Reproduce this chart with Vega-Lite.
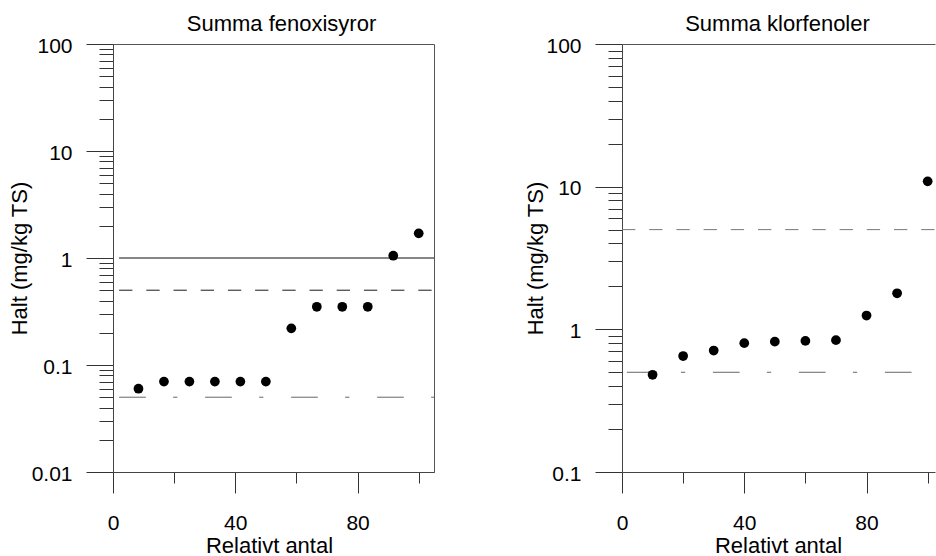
{
  "$schema": "https://vega.github.io/schema/vega-lite/v6.json",
  "background": "white",
  "padding": {"left": 7, "top": 12, "right": 0, "bottom": -3},
  "spacing": 89,
  "config": {
    "font": "Liberation Sans",
    "view": {"stroke": "#555", "strokeWidth": 1},
    "axis": {
      "grid": false,
      "labelFont": "Liberation Sans",
      "labelFontSize": 21,
      "labelColor": "#000",
      "titleFont": "Liberation Sans",
      "titleFontSize": 22,
      "titleFontWeight": "normal",
      "titleColor": "#000",
      "domainColor": "#444",
      "tickColor": "#333",
      "labelOverlap": false,
      "labelFlush": false
    },
    "title": {"font": "Liberation Sans", "fontSize": 22, "fontWeight": "normal", "color": "#000", "baseline": "alphabetic", "offset": -0.5}
  },
  "datasets": {
    "left_pts": [
      {"x": 8.33, "y": 0.06}, {"x": 16.67, "y": 0.07}, {"x": 25, "y": 0.07}, {"x": 33.33, "y": 0.07},
      {"x": 41.67, "y": 0.07}, {"x": 50, "y": 0.07}, {"x": 58.33, "y": 0.22}, {"x": 66.67, "y": 0.35},
      {"x": 75, "y": 0.35}, {"x": 83.33, "y": 0.35}, {"x": 91.67, "y": 1.05}, {"x": 100, "y": 1.7}
    ],
    "left_lines": [
      {"y": 1, "x": 2, "x2": 105, "line": "solid"},
      {"y": 0.5, "x": 2, "x2": 105, "line": "dash"},
      {"y": 0.05, "x": 2, "x2": 105, "line": "dashdot"}
    ],
    "right_pts": [
      {"x": 10, "y": 0.48}, {"x": 20, "y": 0.65}, {"x": 30, "y": 0.71}, {"x": 40, "y": 0.8},
      {"x": 50, "y": 0.82}, {"x": 60, "y": 0.83}, {"x": 70, "y": 0.84}, {"x": 80, "y": 1.25},
      {"x": 90, "y": 1.79}, {"x": 100, "y": 10.9}
    ],
    "right_lines": [
      {"y": 5, "x": 0, "x2": 102.4, "line": "dashgray"},
      {"y": 0.5, "x": 1.6, "x2": 102.4, "line": "dashdot"}
    ]
  },
  "hconcat": [
    {
      "title": {"text": "Summa fenoxisyror", "dx": 8},
      "width": 321,
      "height": 428,
      "encoding": {
        "x": {
          "field": "x", "type": "quantitative",
          "scale": {"domain": [0, 105], "nice": false, "zero": false},
          "axis": {
            "title": "Relativt antal",
            "values": [0, 20, 40, 60, 80, 100],
            "labelExpr": "datum.value % 40 == 0 ? datum.label : ''",
            "tickSize": {"condition": {"test": "datum.value % 40 == 0", "value": 21}, "value": 11},
            "labelPadding": 19,
            "titleX": 156,
            "titleY": 80,
            "titleBaseline": "alphabetic"
          }
        },
        "y": {
          "field": "y", "type": "quantitative",
          "scale": {"type": "log", "domain": [0.01, 100], "nice": false},
          "axis": {
            "title": "Halt (mg/kg TS)",
            "values": [0.01, 0.02, 0.03, 0.04, 0.05, 0.06, 0.07, 0.08, 0.09, 0.1, 0.2, 0.3, 0.4, 0.5, 0.6, 0.7, 0.8, 0.9, 1, 2, 3, 4, 5, 6, 7, 8, 9, 10, 20, 30, 40, 50, 60, 70, 80, 90, 100],
            "format": "~g",
            "labelExpr": "indexof(['0.01','0.1','1','10','100'], datum.label) >= 0 ? datum.label : ''",
            "tickSize": {"condition": {"test": "indexof([0.01,0.1,1,10,100], datum.value) >= 0", "value": 27}, "value": 14},
            "labelPadding": 14,
            "labelOffset": 2,
            "titleX": -86.6,
            "titleBaseline": "alphabetic"
          }
        }
      },
      "layer": [
        {
          "data": {"name": "left_lines"},
          "mark": {"type": "rule", "strokeWidth": 1},
          "encoding": {
            "x2": {"field": "x2"},
            "color": {"field": "line", "type": "nominal", "scale": {"domain": ["solid", "dash", "dashdot", "dashgray"], "range": ["#000000", "#1a1a1a", "#666666", "#777777"]}, "legend": null},
            "strokeDash": {"field": "line", "type": "nominal", "scale": {"domain": ["solid", "dash", "dashdot", "dashgray"], "range": [[1, 0], [13.3, 13.9], [26.7, 27.3, 4.3, 27.7], [13.3, 13.9]]}, "legend": null}
          }
        },
        {
          "data": {"name": "left_pts"},
          "mark": {"type": "circle", "size": 95, "color": "#000", "opacity": 1}
        }
      ]
    },
    {
      "title": {"text": "Summa klorfenoler", "dx": -1},
      "width": 313,
      "height": 428,
      "view": {"stroke": null},
      "resolve": {"axis": {"x": "independent"}},
      "encoding": {
        "x": {
          "field": "x", "type": "quantitative",
          "scale": {"domain": [0, 102.4], "nice": false, "zero": false},
          "axis": {
            "title": "Relativt antal",
            "values": [0, 20, 40, 60, 80, 100],
            "labelExpr": "datum.value % 40 == 0 ? datum.label : ''",
            "tickSize": {"condition": {"test": "datum.value % 40 == 0", "value": 21}, "value": 11},
            "labelPadding": 19,
            "titleX": 156,
            "titleY": 80,
            "titleBaseline": "alphabetic"
          }
        },
        "y": {
          "field": "y", "type": "quantitative",
          "scale": {"type": "log", "domain": [0.1, 100], "nice": false},
          "axis": {
            "title": "Halt (mg/kg TS)",
            "values": [0.1, 0.2, 0.3, 0.4, 0.5, 0.6, 0.7, 0.8, 0.9, 1, 2, 3, 4, 5, 6, 7, 8, 9, 10, 20, 30, 40, 50, 60, 70, 80, 90, 100],
            "format": "~g",
            "labelExpr": "indexof(['0.1','1','10','100'], datum.label) >= 0 ? datum.label : ''",
            "tickSize": {"condition": {"test": "indexof([0.1,1,10,100], datum.value) >= 0", "value": 27}, "value": 14},
            "labelPadding": 14,
            "labelOffset": 2,
            "titleX": -79.6,
            "titleBaseline": "alphabetic"
          }
        }
      },
      "layer": [
        {
          "data": {"name": "right_lines"},
          "mark": {"type": "rule", "strokeWidth": 1},
          "encoding": {
            "x": {"field": "x", "type": "quantitative", "scale": {"domain": [0, 102.4], "nice": false, "zero": false},
              "axis": {"orient": "top", "labels": false, "ticks": false, "title": null, "domainColor": "#555"}},
            "x2": {"field": "x2"},
            "color": {"field": "line", "type": "nominal", "scale": {"domain": ["solid", "dash", "dashdot", "dashgray"], "range": ["#000000", "#1a1a1a", "#666666", "#777777"]}, "legend": null},
            "strokeDash": {"field": "line", "type": "nominal", "scale": {"domain": ["solid", "dash", "dashdot", "dashgray"], "range": [[1, 0], [13.3, 13.9], [26.7, 27.3, 4.3, 27.7], [13.3, 13.9]]}, "legend": null}
          }
        },
        {
          "data": {"name": "right_pts"},
          "mark": {"type": "circle", "size": 95, "color": "#000", "opacity": 1}
        }
      ]
    }
  ]
}
